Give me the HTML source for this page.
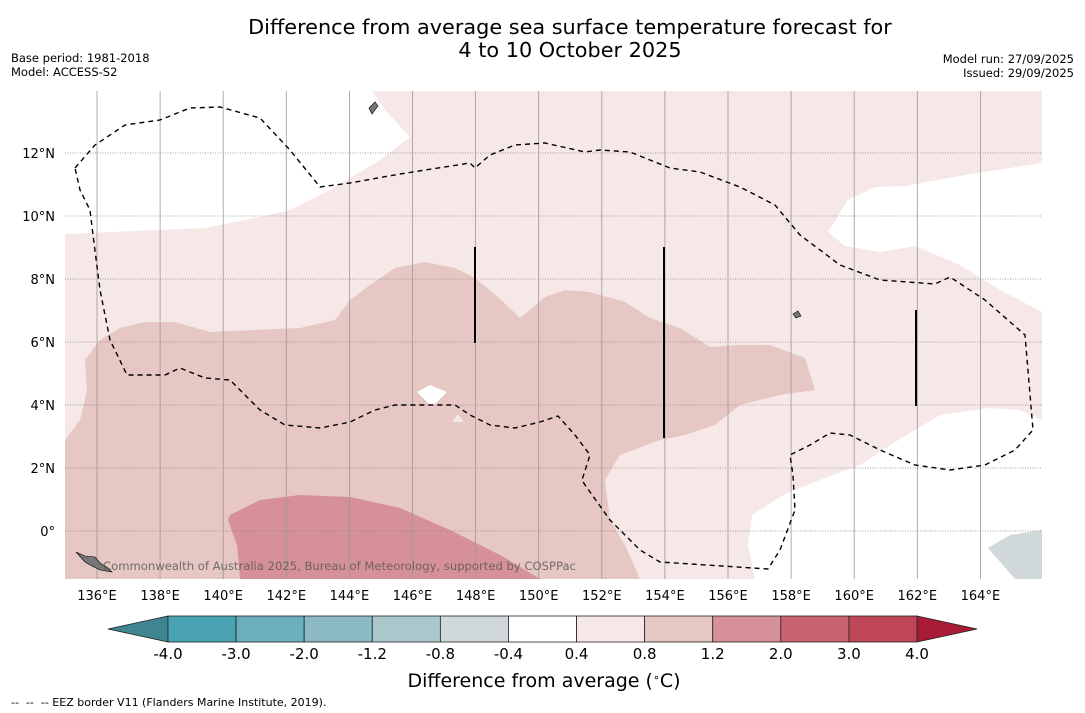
<!DOCTYPE html>
<html><head><meta charset="utf-8"><style>
html,body{margin:0;padding:0;background:#fff;}
svg{display:block;font-family:"DejaVu Sans","Liberation Sans",sans-serif;}
</style></head><body>
<svg id="chart" width="1085" height="713" viewBox="0 0 1085 713" xmlns="http://www.w3.org/2000/svg">
<text x="570" y="34" font-size="20.8" text-anchor="middle">Difference from average sea surface temperature forecast for</text>
<text x="570" y="57" font-size="20.8" text-anchor="middle">4 to 10 October 2025</text>
<text x="11" y="62" font-size="11.5">Base period: 1981-2018</text>
<text x="11" y="76" font-size="11.5">Model: ACCESS-S2</text>
<text x="1074" y="63" font-size="11.5" text-anchor="end">Model run: 27/09/2025</text>
<text x="1074" y="77" font-size="11.5" text-anchor="end">Issued: 29/09/2025</text>
<defs><clipPath id="mapclip"><rect x="65" y="91" width="977" height="488"/></clipPath></defs>
<g id="map" clip-path="url(#mapclip)">
<rect x="65" y="91" width="977" height="488" fill="#f5e8e7"/>
<polygon fill="#fff" points="65,91 372,91 385,110 410,137 380,160 330,190 290,210 260,217 205,228 65,234"/>
<polygon fill="#fff" points="1042,163 965,175 905,186 875,187 848,200 828,232 845,246 880,252 915,246 960,265 1000,290 1042,312"/>
<polygon fill="#fff" points="755,579 748,545 752,515 785,494 820,480 860,465 895,442 940,415 990,408 1020,410 1042,420 1042,579"/>
<polygon fill="#d0d8d9" points="988,548 1010,535 1042,530 1042,579 1015,579"/>
<polygon fill="#e6c7c3" points="65,440 80,420 87,390 85,360 100,340 120,328 145,322 175,322 210,332 300,328 335,320 350,300 370,285 395,268 425,262 455,268 475,278 498,297 520,318 545,297 565,290 590,292 625,302 650,318 680,328 710,347 740,345 770,345 805,358 815,390 780,395 740,405 715,425 685,435 660,440 620,455 605,480 610,520 625,545 640,579 65,579"/>
<polygon fill="#fff" points="417,392 430,385 447,392 432,407"/>
<polygon fill="#f5e8e7" points="452,422 458,414 464,422"/>
<polygon fill="#d69097" points="230,515 260,500 300,495 350,497 400,508 450,530 500,555 540,579 240,579 237,545 228,520"/>
<g id="grid"></g>
<polyline fill="none" stroke="#000" stroke-width="1.4" stroke-dasharray="5,4" points="75,168 95,145 125,125 160,120 190,108 220,107 260,118 290,150 320,187 350,183 400,174 470,163 475,168 490,155 515,145 545,143 585,152 600,150 630,152 670,168 700,172 740,187 775,205 800,235 840,265 880,280 935,284 950,277 985,300 1025,335 1033,430 1015,450 985,465 950,470 915,465 880,450 850,435 830,433 810,445 790,455 793,475 795,510 780,550 768,569 660,562 640,550 610,520 585,485 582,480 590,455 575,435 558,416 540,422 515,428 490,425 470,415 455,405 420,405 395,405 375,410 350,422 320,428 285,425 260,410 230,380 205,378 180,368 165,375 127,375 110,340 100,290 93,235 90,210 80,190 75,168"/>
<line x1="475" y1="247" x2="475" y2="343" stroke="#000" stroke-width="2"/>
<line x1="664" y1="247" x2="664" y2="438" stroke="#000" stroke-width="2"/>
<line x1="916" y1="310" x2="916" y2="406" stroke="#000" stroke-width="2"/>
<polygon fill="#777" stroke="#000" stroke-width="0.6" points="76,552 85,556 95,557 100,563 108,568 112,572 100,570 92,566 85,562"/>
<polygon fill="#777" stroke="#000" stroke-width="0.6" points="369,108 375,102 378,106 372,114"/>
<polygon fill="#777" stroke="#000" stroke-width="0.6" points="793,314 798,311 801,316 796,318"/>
<text x="103" y="570" font-size="11.6" fill="#555" fill-opacity="0.8">Commonwealth of Australia 2025, Bureau of Meteorology, supported by COSPPac</text>
</g>
<g id="ticks"></g>
<g id="colorbar"></g>
<text x="544" y="687" font-size="19" text-anchor="middle">Difference from average (<tspan baseline-shift="super" font-size="11">∘</tspan>C)</text>
<text x="11" y="706" font-size="11" xml:space="preserve">--  --  -- EEZ border V11 (Flanders Marine Institute, 2019).</text>
<script>
const lonTicks=[136,138,140,142,144,146,148,150,152,154,156,158,160,162,164];
const latTicks=[12,10,8,6,4,2,0];
const cbLevels=["-4.0","-3.0","-2.0","-1.2","-0.8","-0.4","0.4","0.8","1.2","2.0","3.0","4.0"];
const cbColors=["#4aa3b3","#6aafbb","#8cbac4","#aac8cc","#d0d8d9","#ffffff","#f5e8e7","#e6c7c3","#d69097","#c9636f","#bf4657"];
const NS="http://www.w3.org/2000/svg";
const xs=lon=>97+(lon-136)*31.55;
const ys=lat=>531-lat*31.5;
const grid=document.getElementById('grid'),ticks=document.getElementById('ticks'),cb=document.getElementById('colorbar');
function mk(tag,attrs,parent){const e=document.createElementNS(NS,tag);for(const k in attrs)e.setAttribute(k,attrs[k]);parent.appendChild(e);return e;}
lonTicks.forEach(l=>{
 const g=mk('line',{x1:xs(l),x2:xs(l),y1:91,y2:579,stroke:'#999','stroke-width':0.8},grid);
 
 
 const t=mk('text',{x:xs(l),y:600,'font-size':13,'text-anchor':'middle'},ticks);
 t.textContent=l+'°E';
 
 
});
latTicks.forEach(l=>{
 const g=mk('line',{x1:65,x2:1042,y1:ys(l),y2:ys(l),stroke:'#888','stroke-width':0.8,'stroke-dasharray':'1,1.5'},grid);
 
 
 const t=mk('text',{x:55,y:ys(l)+5,'font-size':13,'text-anchor':'end'},ticks);
 t.textContent=l===0?'0°':l+'°N';
 
 
});
const cx0=168,cx1=917,cy=616,ch=26,bw=(cx1-cx0)/cbColors.length;
const lt=mk('polygon',{points:`108,629 ${cx0},${cy} ${cx0},${cy+ch}`,fill:'#3f858f',stroke:'#222','stroke-width':0.8},cb);


const rt=mk('polygon',{points:`977,629 ${cx1},${cy} ${cx1},${cy+ch}`,fill:'#a81c37',stroke:'#222','stroke-width':0.8},cb);


cbColors.forEach((c,i)=>{
 const r=mk('rect',{x:cx0+i*bw,y:cy,width:bw,height:ch,fill:c,stroke:'#222','stroke-width':0.8},cb);
 
 
});
cbLevels.forEach((v,i)=>{
 const t=mk('text',{x:cx0+i*bw,y:659,'font-size':15,'text-anchor':'middle'},cb);
 t.textContent=v;
 
 
});
</script>
</svg>
</body></html>
